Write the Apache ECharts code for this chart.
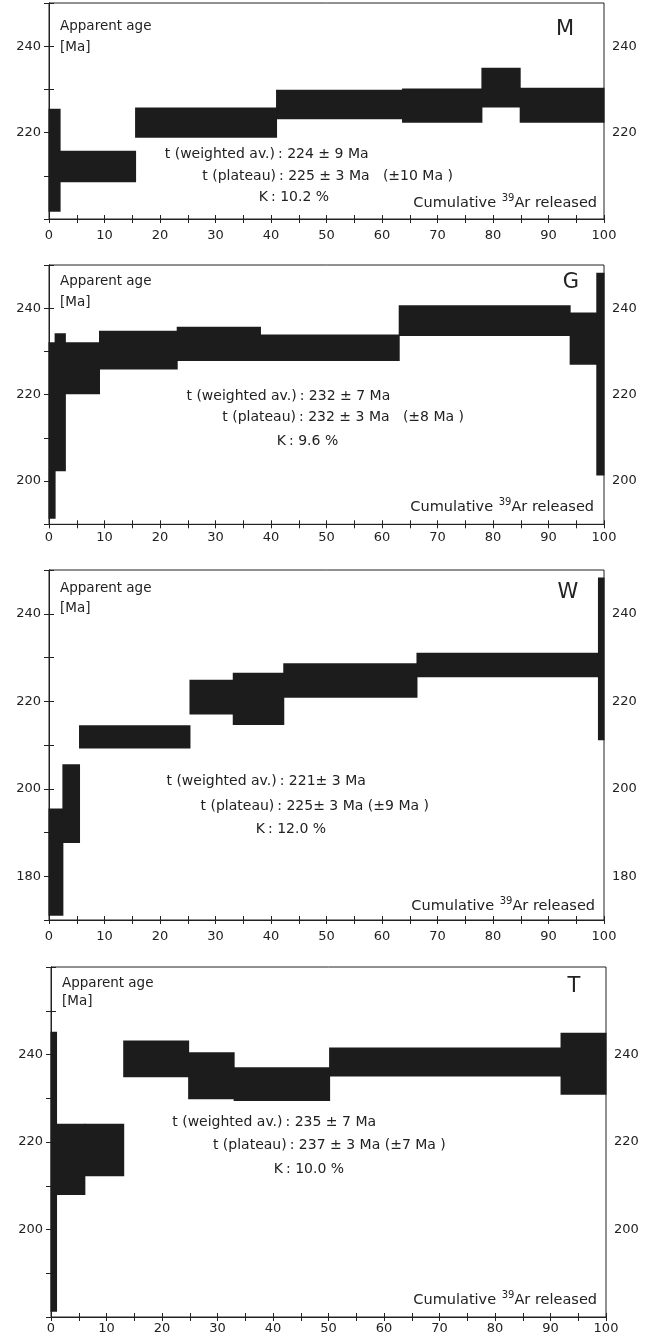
<!DOCTYPE html>
<html>
<head>
<meta charset="utf-8">
<script src="https://cdn.jsdelivr.net/npm/echarts@6/dist/echarts.min.js"></script>
<style>
html, body { margin: 0; padding: 0; background: #fff; }
#main { width: 653px; height: 1339px; }
</style>
</head>
<body>
<div id="main"></div>
<script>
// step edges = cumulative 39Ar released (%), low/high = apparent age band (Ma)
var mEdges = [0, 2.0, 15.6, 41.0, 63.7, 78.0, 84.9, 100];
var mLow   = [201.7, 208.5, 218.8, 223.1, 222.3, 225.8, 222.3];
var mHigh  = [225.5, 215.8, 225.8, 229.9, 230.2, 235.0, 230.4];

var gEdges = [0, 1.1, 2.95, 9.1, 23.1, 38.1, 63.1, 93.9, 98.7, 100];
var gLow   = [191.3, 202.3, 220.1, 225.8, 227.8, 227.8, 233.6, 226.9, 201.3];
var gHigh  = [232.1, 234.2, 232.1, 234.8, 235.7, 233.9, 240.7, 239.0, 248.2];

var wEdges = [0, 2.5, 5.5, 25.4, 33.2, 42.3, 66.3, 99.0, 100];
var wLow   = [171.0, 187.6, 209.2, 217.0, 214.6, 220.8, 225.5, 211.1];
var wHigh  = [195.5, 205.6, 214.5, 224.9, 226.5, 228.7, 231.1, 248.3];

var tEdges = [0, 1.0, 6.1, 13.1, 24.8, 33.0, 50.2, 91.9, 100];
var tLow   = [181.2, 207.9, 212.2, 234.8, 229.8, 229.4, 235.0, 230.8];
var tHigh  = [245.2, 224.2, 224.2, 243.2, 240.5, 237.1, 241.6, 245.0];

// axis ranges (Ma)
var yMins = [200, 190, 170, 180];
var yMaxs = [250, 250, 250, 260];

var sampleNames = ['M', 'G', 'W', 'T'];
var weightedAv = [': 224 ± 9 Ma', ': 232 ± 7 Ma', ': 221± 3 Ma', ': 235 ± 7 Ma'];
var plateauAge = [': 225 ± 3 Ma   (±10 Ma )', ': 232 ± 3 Ma   (±8 Ma )', ': 225± 3 Ma (±9 Ma )', ': 237 ± 3 Ma (±7 Ma )'];
var kContent   = [': 10.2 %', ': 9.6 %', ': 12.0 %', ': 10.0 %'];

var INK = '#222';
var FILL = '#1c1c1c';
var FONT = '"DejaVu Sans", sans-serif';

// layout of each panel (pixels)
var panels = [
  { edges: mEdges, low: mLow, high: mHigh, left: 49, top: 3, height: 216, labM: 10,
    appY: 26, maY: 47, letX: 565, letY: 30, l1: 154, l2: 176.7, l3: 197.3, c1: 280, c2: 281, c3: 273, cumX: 597, cumY: 203 },
  { edges: gEdges, low: gLow, high: gHigh, left: 49, top: 265, height: 259.3, labM: 7,
    appY: 281, maY: 302, letX: 571, letY: 283, l1: 396.7, l2: 417.7, l3: 441.7, c1: 301.7, c2: 301, c3: 291, cumX: 594, cumY: 507.7 },
  { edges: wEdges, low: wLow, high: wHigh, left: 49, top: 570, height: 350, labM: 10,
    appY: 588, maY: 608, letX: 568, letY: 593, l1: 781.7, l2: 806, l3: 829.3, c1: 281.7, c2: 279.3, c3: 270, cumX: 595, cumY: 906 },
  { edges: tEdges, low: tLow, high: tHigh, left: 51, top: 967, height: 350, labM: 5,
    appY: 983, maY: 1001, letX: 574, letY: 987, l1: 1122.7, l2: 1145, l3: 1169.3, c1: 287.5, c2: 291.7, c3: 288, cumX: 597, cumY: 1300.7 }
];

var measure = document.createElement('canvas').getContext('2d');
function textWidth(s, size) {
  measure.font = size + 'px ' + FONT;
  return measure.measureText(s).width;
}

function txt(x, y, s, size, align) {
  return {
    type: 'text', x: x, y: y, silent: true,
    style: { text: s, fill: INK, fontSize: size, fontFamily: FONT, align: align || 'left', verticalAlign: 'middle' }
  };
}

var grids = [], xAxes = [], yAxes = [], series = [], graphics = [];

panels.forEach(function (p, i) {
  grids.push({ left: p.left, top: p.top, width: 555, height: p.height, show: true,
    borderColor: INK, borderWidth: 1, containLabel: false });

  // main x axis (labels + outward ticks)
  xAxes.push({
    gridIndex: i, type: 'value', min: 0, max: 100, interval: 5, position: 'bottom',
    axisLine: { lineStyle: { color: INK, width: 1 } },
    axisTick: { length: 4, lineStyle: { color: INK } },
    axisLabel: { color: INK, fontSize: 13, fontFamily: FONT, margin: p.labM,
      formatter: function (v) { return v % 10 === 0 ? String(v) : ''; } },
    splitLine: { show: false }
  });
  // second x axis only for the inward half of the crossing ticks
  xAxes.push({
    gridIndex: i, type: 'value', min: 0, max: 100, interval: 5, position: 'bottom',
    axisLine: { show: false },
    axisTick: { inside: true, length: 4, lineStyle: { color: INK } },
    axisLabel: { show: false }, splitLine: { show: false }
  });

  var lo = yMins[i], hi = yMaxs[i];
  ['left', 'right'].forEach(function (pos) {
    yAxes.push({
      gridIndex: i, type: 'value', min: lo, max: hi, interval: 10, position: pos,
      axisLine: { show: true, lineStyle: { color: INK, width: 1 } },
      axisTick: { show: true, length: 5, lineStyle: { color: INK } },
      axisLabel: { color: INK, fontSize: 13, fontFamily: FONT, margin: 8,
        formatter: function (v) { return (v % 20 === 0 && v !== lo && v !== hi) ? String(v) : ''; } },
      splitLine: { show: false }
    });
  });

  var steps = [];
  for (var k = 0; k < p.low.length; k++) {
    steps.push([p.edges[k], p.edges[k + 1], p.low[k], p.high[k]]);
  }
  series.push({
    type: 'custom', xAxisIndex: 2 * i, yAxisIndex: 2 * i, silent: true, data: steps,
    renderItem: function (params, api) {
      var a = api.coord([api.value(0), api.value(3)]);
      var b = api.coord([api.value(1), api.value(2)]);
      // widen a touch so neighbouring steps join without a seam
      return { type: 'rect', shape: { x: a[0] - 0.5, y: a[1], width: b[0] - a[0] + 1, height: b[1] - a[1] },
        style: { fill: FILL } };
    }
  });

  // annotations
  var ax = p.left + 11;
  graphics.push(txt(ax, p.appY, 'Apparent age', 13.5));
  graphics.push(txt(ax, p.maY, '[Ma]', 13.5));
  graphics.push(txt(p.letX, p.letY, sampleNames[i], 21, 'center'));

  graphics.push(txt(p.c1 - 5, p.l1, 't (weighted av.)', 14, 'right'));
  graphics.push(txt(p.c1 - 2, p.l1, weightedAv[i], 14));
  graphics.push(txt(p.c2 - 5, p.l2, 't (plateau)', 14, 'right'));
  graphics.push(txt(p.c2 - 2, p.l2, plateauAge[i], 14));
  graphics.push(txt(p.c3 - 5, p.l3, 'K', 14, 'right'));
  graphics.push(txt(p.c3 - 2, p.l3, kContent[i], 14));

  var wAr = textWidth('Ar released', 14.5);
  var wSup = textWidth('39', 10);
  graphics.push(txt(p.cumX, p.cumY, 'Ar released', 14.5, 'right'));
  graphics.push(txt(p.cumX - wAr, p.cumY - 5, '39', 10, 'right'));
  graphics.push(txt(p.cumX - wAr - wSup - 1, p.cumY, 'Cumulative ', 14.5, 'right'));
});

var chart = echarts.init(document.getElementById('main'), null, { renderer: 'canvas' });
chart.setOption({
  animation: false,
  backgroundColor: '#fff',
  grid: grids,
  xAxis: xAxes,
  yAxis: yAxes,
  series: series,
  graphic: graphics
});
</script>
</body>
</html>
